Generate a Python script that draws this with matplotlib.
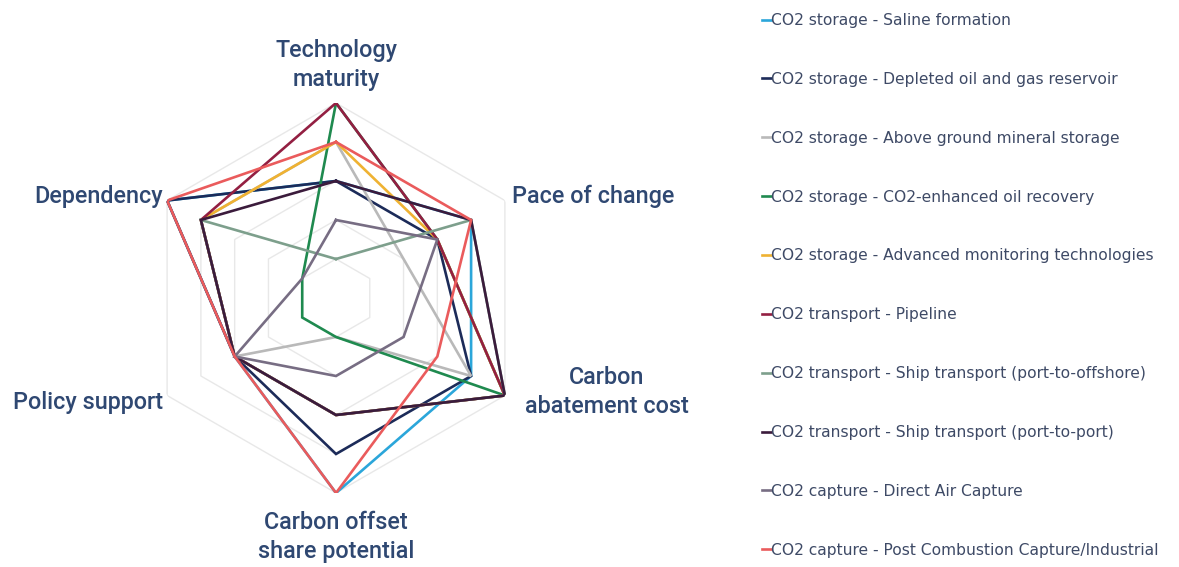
import numpy as np
import matplotlib.pyplot as plt

# axes order clockwise from top
axes_labels = ['Technology\nmaturity', 'Pace of change', 'Carbon\nabatement cost',
               'Carbon offset\nshare potential', 'Policy support', 'Dependency']

series_names = [
    'CO2 storage - Saline formation',
    'CO2 storage - Depleted oil and gas reservoir',
    'CO2 storage - Above ground mineral storage',
    'CO2 storage - CO2-enhanced oil recovery',
    'CO2 storage - Advanced monitoring technologies',
    'CO2 transport - Pipeline',
    'CO2 transport - Ship transport (port-to-offshore)',
    'CO2 transport - Ship transport (port-to-port)',
    'CO2 capture - Direct Air Capture',
    'CO2 capture - Post Combustion Capture/Industrial',
]

saline = [3, 4, 4, 5, 3, 5]
depleted = [3, 3, 4, 4, 3, 5]
above_ground = [4, 2, 4, 1, 3, 4]
eor = [5, 3, 5, 1, 1, 1]
monitoring = [4, 3, 5, 3, 3, 4]
pipeline = [5, 3, 5, 3, 3, 4]
ship_offshore = [1, 4, 5, 3, 3, 4]
ship_port = [3, 4, 5, 3, 3, 4]
dac = [2, 3, 2, 2, 3, 1]
post_combustion = [4, 4, 3, 5, 3, 5]

all_values = [saline, depleted, above_ground, eor, monitoring, pipeline,
              ship_offshore, ship_port, dac, post_combustion]

colors = ['#2ba6da', '#1c2b59', '#b9b9b9', '#1f8a4f', '#efb232', '#931f42',
          '#7d9f8c', '#3b1b3c', '#776d83', '#ea5b5c']

rings = [1, 2, 3, 4, 5]

W, H = 1179, 567
fig = plt.figure(figsize=(W / 100, H / 100), dpi=100)

# polar axes centred at (336, 298) px with radius 195 px
cx, cy, R = 336, 298, 195
ax = fig.add_axes([(cx - R) / W, (H - cy - R) / H, 2 * R / W, 2 * R / H], projection='polar')
ax.set_theta_offset(np.pi / 2)
ax.set_theta_direction(-1)
ax.set_ylim(0, 5)
ax.set_xticks([])
ax.set_yticks([])
ax.grid(False)
ax.spines['polar'].set_visible(False)
ax.patch.set_alpha(0)

n = len(axes_labels)
theta = np.linspace(0, 2 * np.pi, n, endpoint=False)
theta_c = np.append(theta, theta[0])

# hexagonal grid
for r in rings:
    ax.plot(theta_c, [r] * (n + 1), color='#e8e8e8', lw=1.0, zorder=1)

for vals, col, name in zip(all_values, colors, series_names):
    ax.plot(theta_c, vals + vals[:1], color=col, lw=1.9, label=name, zorder=3,
            solid_joinstyle='miter')

# axis labels
lab_col = '#2f4872'
lab_kw = dict(fontsize=16.8, color=lab_col, fontweight='medium', family='Roboto',
              linespacing=1.3)
label_pos = [(336, 65, 'center'), (593, 196, 'center'), (607, 392, 'center'),
             (336, 537, 'center'), (88, 402, 'center'), (99, 196, 'center')]
for txt, (x, y, ha) in zip(axes_labels, label_pos):
    fig.text(x / W, 1 - y / H, txt, ha=ha, va='center', **lab_kw)

# legend
leg = fig.legend(loc='upper left', bbox_to_anchor=(748 / W, 1 + 1 / H), frameon=False,
                 handlelength=0.55, handletextpad=0.0, labelspacing=2.82,
                 prop={'family': 'DejaVu Sans', 'size': 11.2})
for t in leg.get_texts():
    t.set_color('#3e4a66')

fig.savefig('out.png', dpi=100)
